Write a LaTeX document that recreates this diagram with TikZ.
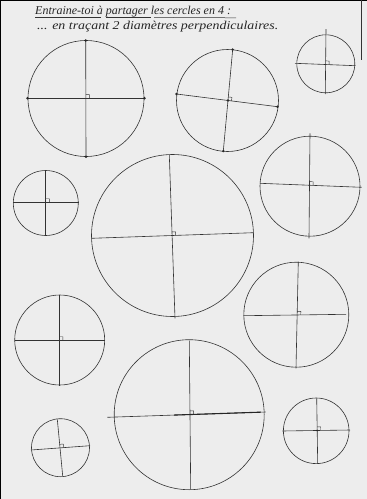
\documentclass[tikz,border=0pt]{standalone}
\usepackage{fontspec}
\setmainfont{Liberation Serif}
\usetikzlibrary{calc}
\tikzset{
  circ/.style={draw=black!80, line width=0.6pt},
  diam/.style={draw=black!80, line width=0.6pt},
  ramark/.style={draw=black!80, line width=0.45pt},
  pt/.style={fill=black!85},
  hand/.style={font=\itshape\fontsize{12}{14}\selectfont, text=black!85, inner sep=0pt},
  uline/.style={draw=black!80, line width=0.5pt}
}
\newcommand\cercleQ[7]{%
  \coordinate (#1c) at #2;
  \draw[circ] (#1c) circle[radius=#3];
  \coordinate (#1h1) at #4; \coordinate (#1h2) at #5;
  \coordinate (#1v1) at #6; \coordinate (#1v2) at #7;
  \draw[diam] (#1h1) -- (#1h2);
  \draw[diam] (#1v1) -- (#1v2);
  \coordinate (#1o) at (intersection of #1h1--#1h2 and #1v1--#1v2);
  \coordinate (#1ma) at ($(#1o)!3.6pt!(#1h2)$);
  \coordinate (#1mb) at ($(#1o)!3.6pt!(#1v1)$);
  \draw[ramark] (#1ma) -- ($(#1ma)+(#1mb)-(#1o)$) -- (#1mb);
}
\begin{document}
\begin{tikzpicture}[x=1pt,y=-1pt]
\useasboundingbox (0,0) rectangle (367,499);
\fill[black!7] (0,0) rectangle (367,499);
% frame edges of the sheet
\draw[black, line width=1.2pt] (0.8,0) -- (0.8,499);
\draw[black, line width=1pt] (0,0.6) -- (367,0.6);
\draw[black!80, line width=0.8pt] (361.8,0) -- (361.8,60);

% heading
\node[hand, anchor=base west] (t1) at (35,14) {Entraine-toi à partager les cercles en 4 :};
\node[hand, anchor=base west, xscale=1.16] (t2) at (37,29) {... en traçant 2 diamètres perpendiculaires.};
\draw[uline] (35,17) -- (101,17);
\draw[uline] (106,17.2) -- (151,17.2);
\draw[uline] (154,17.4) -- (236,17.8);

% circles
\cercleQ{a}{(86,98.5)}{58}{(27.5,98.3)}{(144.5,98.3)}{(85.7,40.5)}{(86,156.7)}
\foreach \p in {ah1,ah2,av1,av2} \fill[pt] (\p) circle[radius=1.4];

\cercleQ{b}{(227.5,100.5)}{51}{(176.5,94)}{(277.5,106.7)}{(232.7,49.5)}{(223.3,151)}
\foreach \p in {bh1,bh2,bv1,bv2,bo} \fill[pt] (\p) circle[radius=1.3];

\cercleQ{c}{(325.8,63.8)}{29}{(295,63.3)}{(355.5,65.7)}{(326,29)}{(325.3,94)}

\cercleQ{d}{(45.8,203)}{32.5}{(13,202.3)}{(78.5,202.3)}{(45.7,170.5)}{(45.7,235.5)}

\cercleQ{e}{(172.5,235.5)}{81}{(91.5,238.3)}{(253.5,232.7)}{(169.3,155)}{(175,318.3)}

\cercleQ{f}{(310,186.2)}{50}{(260,183.3)}{(361.7,187.3)}{(310,133.3)}{(309,238.3)}

\cercleQ{g}{(59.7,340)}{45}{(14.7,340.3)}{(104.7,340.3)}{(59.3,295)}{(59.3,385.5)}

\cercleQ{h}{(296.3,314.7)}{52.5}{(243.3,315.7)}{(346,314.3)}{(298.3,261.7)}{(296,368.3)}

\cercleQ{i}{(189.2,414.7)}{75}{(107.3,417.3)}{(265.7,412)}{(189.3,340.7)}{(190.7,489.3)}
\draw[draw=black!85, line width=1.1pt] ($(ih1)!0.42!(ih2)$) -- ($(ih1)!0.97!(ih2)$);

\cercleQ{j}{(60.5,447.7)}{29}{(31,450)}{(90,445.7)}{(57.3,419.3)}{(62.7,476)}

\cercleQ{k}{(316.2,430.8)}{32.8}{(282.3,431)}{(350,430)}{(316.7,398.3)}{(317.7,463.3)}
\fill[pt] (ko) circle[radius=1];
\end{tikzpicture}
\end{document}
